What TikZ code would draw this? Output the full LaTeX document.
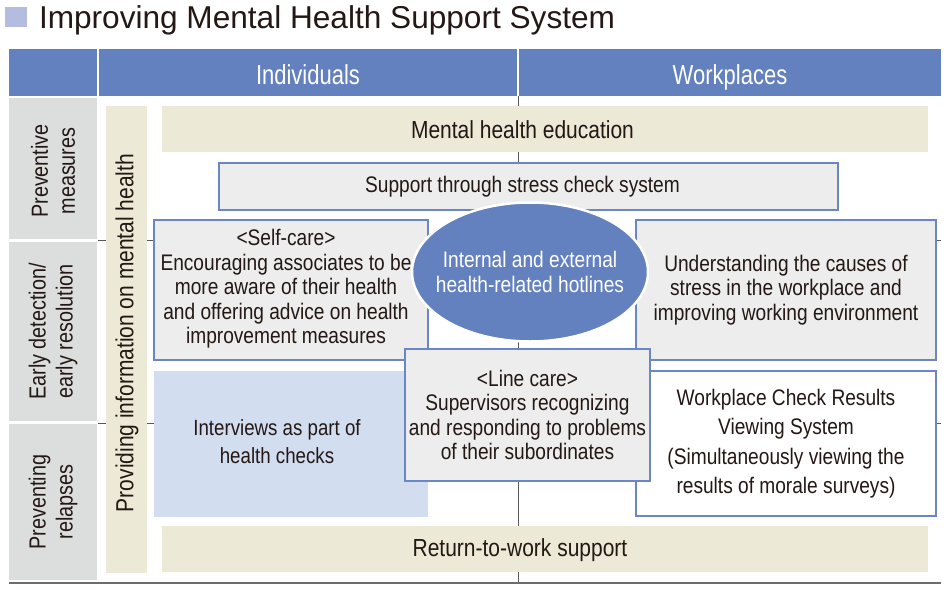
\documentclass[tikz,border=0pt]{standalone}
\usepackage{fontspec}
\setmainfont{Liberation Sans}[FakeStretch=0.85]
\newfontfamily\titlefont{Liberation Sans}
\newfontfamily\hdrfont{Liberation Sans}[FakeStretch=0.8]
\usetikzlibrary{shapes.geometric}
\definecolor{hdr}{HTML}{6381BF}
\definecolor{sq}{HTML}{B4BCE0}
\definecolor{lblg}{HTML}{DCDDDD}
\definecolor{beige}{HTML}{ECE9D6}
\definecolor{boxg}{HTML}{ECEDEC}
\definecolor{bdr}{HTML}{6A86C4}
\definecolor{lblue}{HTML}{D3DDF0}
\definecolor{txt}{HTML}{231815}
\definecolor{gridc}{HTML}{595757}
\begin{document}
\begin{tikzpicture}[x=1pt,y=-1pt,
  every node/.style={inner sep=0pt, outer sep=0pt, text=txt, align=center},
  bodyfont/.style={font=\fontsize{22.5}{24.5}\selectfont},
  bigfont/.style={font=\fontsize{24.7}{27}\selectfont},
  hdrst/.style={fill=hdr, text=white, font=\hdrfont\fontsize{27.5}{30}\selectfont},
  lbl/.style={fill=lblg, minimum width=88pt},
  rotlbl/.style={rotate=90, font=\fontsize{23.3}{27}\selectfont},
  beigest/.style={fill=beige},
  boxst/.style={fill=boxg, draw=bdr, line width=1.5pt, bodyfont},
  whitebox/.style={fill=white, draw=bdr, line width=1.5pt, font=\fontsize{22.5}{29.5}\selectfont},
  gridln/.style={draw=gridc, line width=0.9pt}
]
\useasboundingbox (0,0) rectangle (948,589);
\fill[white] (0,0) rectangle (948,589);
% title
\fill[sq] (5,7) rectangle (27,27);
\node[anchor=base west, font=\titlefont\fontsize{31.6}{36}\selectfont] (title) at (39,28) {Improving Mental Health Support System};
% header
\node[hdrst, minimum width=88pt, minimum height=47pt] (h0) at (53,72.5) {};
\node[hdrst, minimum width=418pt, minimum height=47pt] (h1) at (308,72.5) {};
\node[hdrst, minimum width=422pt, minimum height=47pt] (h2) at (730,72.5) {};
\node[anchor=base, text=white, font=\hdrfont\fontsize{27.5}{30}\selectfont] (h1t) at (308,84) {Individuals};
\node[anchor=base, text=white, font=\hdrfont\fontsize{27.5}{30}\selectfont] (h2t) at (730,84) {Workplaces};
% grid lines
\draw[gridln] (98,240.5) -- (941,240.5);
\draw[gridln] (98,423) -- (941,423);
\draw[gridln] (518,96) -- (518,582);
\draw[draw=white, line width=1.5pt] (518,49) -- (518,96);
\draw[draw=gray!85!black, line width=2pt] (9,583) -- (941,583);
% row labels
\node[lbl, minimum height=141pt] (r1) at (53,168.5) {};
\node[rotlbl] (r1t) at (53,171) {Preventive\\measures};
\node[lbl, minimum height=179pt] (r2) at (53,331.5) {};
\node[rotlbl] (r2t) at (r2) {Early detection/\\early resolution};
\node[lbl, minimum height=156pt] (r3) at (53,502) {};
\node[rotlbl] (r3t) at (r3) {Preventing\\relapses};
% info bar
\node[beigest, minimum width=41pt, minimum height=467pt] (info) at (126.5,339.5) {};
\node[rotate=90, bigfont] (infot) at (127,333) {Providing information on mental health};
% rows
\node[beigest, minimum width=766pt, minimum height=46pt] (mhe) at (545,129) {};
\node[bigfont] (mhet) at (522.5,130) {Mental health education};
\node[boxst, minimum width=619pt, minimum height=47pt] (stress) at (528.5,186.5) {};
\node[bodyfont] (stresst) at (522.5,187) {Support through stress check system};
\node[boxst, minimum width=274pt, minimum height=140pt] (self) at (291,290) {};
\node[bodyfont] (selft) at (286,289) {<Self-care>\\Encouraging associates to be\\more aware of their health\\and offering advice on health\\improvement measures};
\node[boxst, minimum width=300pt, minimum height=140pt] (cause) at (786,290) {Understanding the causes of\\stress in the workplace and\\improving working environment};
\node[fill=lblue, minimum width=274pt, minimum height=146pt] (intv) at (291,444) {};
\node[font=\fontsize{22}{28}\selectfont] (intvt) at (277,442) {Interviews as part of\\health checks};
\node[whitebox, minimum width=300pt, minimum height=145pt] (wcr) at (786,443.5) {Workplace Check Results\\Viewing System\\(Simultaneously viewing the\\results of morale surveys)};
\node[boxst, minimum width=245pt, minimum height=132pt] (line) at (527.5,415) {<Line care>\\Supervisors recognizing\\and responding to problems\\of their subordinates};
\node[ellipse, fill=hdr, draw=white, line width=2.5pt, minimum width=236pt, minimum height=139pt] (hot) at (530,272) {};
\node[text=white, font=\fontsize{22.5}{25}\selectfont] (hott) at (hot) {Internal and external\\health-related hotlines};
\node[beigest, minimum width=766pt, minimum height=46pt] (rtw) at (545,549) {};
\node[bigfont] (rtwt) at (520,550) {Return-to-work support};
\end{tikzpicture}
\end{document}
